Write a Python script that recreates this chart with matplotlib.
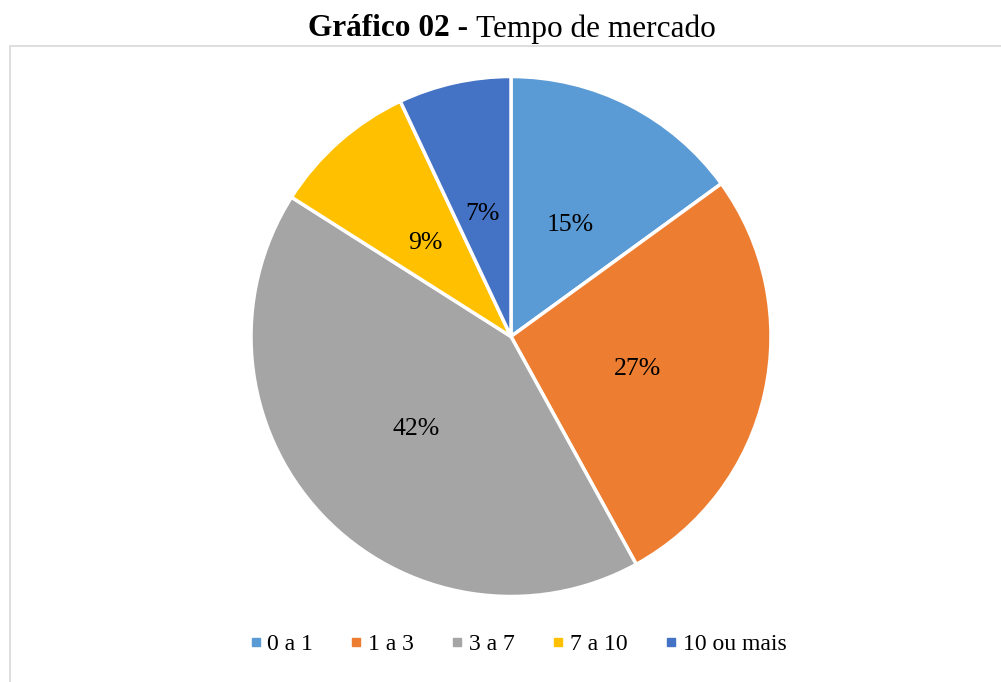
import matplotlib.pyplot as plt
from matplotlib.lines import Line2D
from matplotlib.patches import Rectangle

plt.rcParams['font.family'] = ['Liberation Serif', 'DejaVu Serif']

# dados do gráfico
categorias = ['0 a 1', '1 a 3', '3 a 7', '7 a 10', '10 ou mais']
percentuais = [15, 27, 42, 9, 7]
cores = ['#5B9BD5', '#ED7D31', '#A5A5A5', '#FFC000', '#4472C4']

W, H = 1001, 682
fig = plt.figure(figsize=(W / 100, H / 100), dpi=100)

# moldura da área do gráfico (só esquerda e topo aparecem)
fig.patches.append(Rectangle((9.5 / W, -0.1), 1.2, (H - 46) / H + 0.1,
                             transform=fig.transFigure, fill=False,
                             edgecolor='#D9D9D9', linewidth=1.2))

# pizza
cx, cy, r = 511, 336.5, 260
ax = fig.add_axes([(cx - r) / W, 1 - (cy + r) / H, 2 * r / W, 2 * r / H])
wedges, texts, autotexts = ax.pie(
    percentuais, colors=cores, startangle=90, counterclock=False,
    autopct='%1.0f%%', pctdistance=0.5,
    wedgeprops=dict(edgecolor='white', linewidth=2.5),
    textprops=dict(fontsize=18.5, color='black'))
# rótulos um pouco mais abaixo, como no original
for t in autotexts:
    x, y = t.get_position()
    t.set_position((x, y - 0.015))
ax.set_xlim(-1, 1)
ax.set_ylim(-1, 1)
ax.set_aspect('equal')

# título com parte em negrito
fig.text(468 / W, 1 - 29 / H, 'Gráfico 02 -', ha='right', va='center',
         fontsize=22.5, fontweight='bold')
fig.text(476 / W, 1 - 29 / H, 'Tempo de mercado', ha='left', va='center',
         fontsize=22.5)

# legenda
handles = [Line2D([], [], marker='s', linestyle='', color=c, markersize=5.5)
           for c in cores]
fig.legend(handles, categorias, loc='center', bbox_to_anchor=(518 / W, 1 - 644 / H),
           ncol=5, frameon=False, fontsize=17, handletextpad=0.25,
           columnspacing=1.58, handlelength=0.5)

fig.savefig('out.png', dpi=100)
